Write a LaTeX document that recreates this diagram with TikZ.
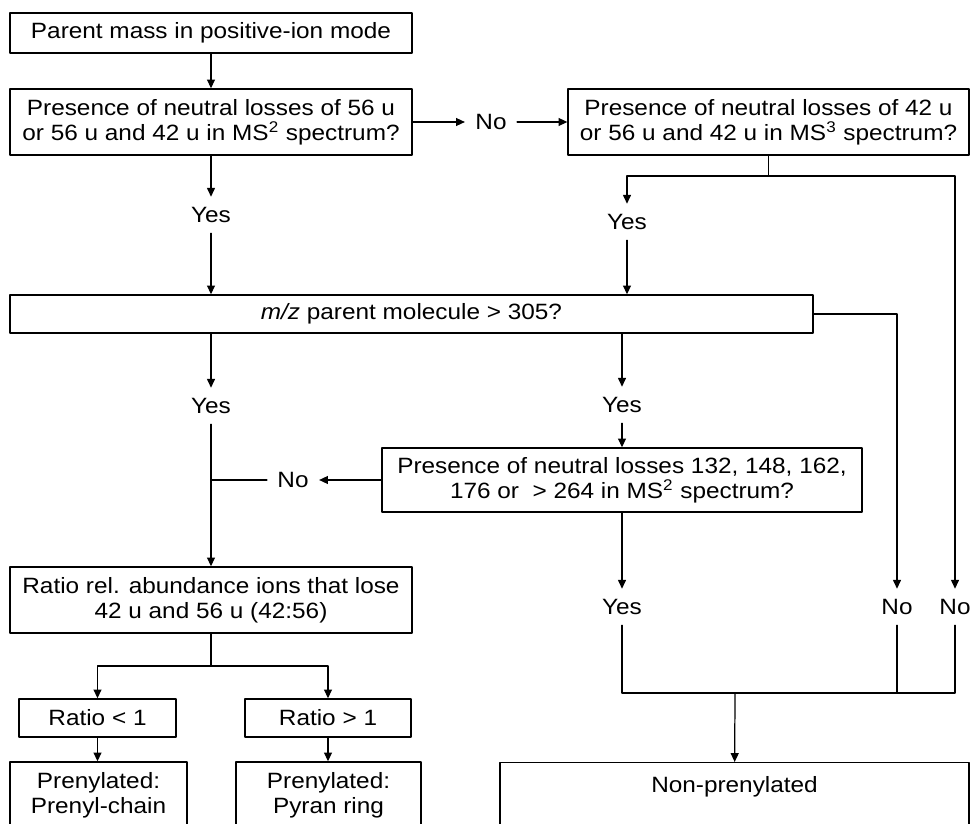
\documentclass[tikz,border=0pt]{standalone}
\usepackage{fontspec}
\setmainfont{Liberation Sans}[FakeStretch=1.1]
\usetikzlibrary{arrows.meta}
\begin{document}
\begin{tikzpicture}[x=0.02cm,y=-0.02cm,line cap=round,line join=round,>={Triangle[length=5pt,width=4.5pt]},
	font=\fontsize{12.6}{14.4}\selectfont,line width=0.7pt,
	box/.style={draw,line width=0.8pt,align=center,inner sep=2pt},
	lbl/.style={inner sep=1pt,outer sep=5pt}]
	
	\clip (0,0) rectangle (970,824);
	% boxes
	\node[box,minimum width=8.04cm,minimum height=0.8cm] (pm) at (211,33) {Parent mass in positive-ion mode};
	\node[box,minimum width=8.04cm,minimum height=1.32cm] (ms2) at (211,122) {Presence of neutral losses of 56 u\\or 56 u and 42 u in MS\textsuperscript{2} spectrum?};
	\node[box,minimum width=8.02cm,minimum height=1.32cm] (ms3) at (768.5,122) {Presence of neutral losses of 42 u\\or 56 u and 42 u in MS\textsuperscript{3} spectrum?};
	\node[box,minimum width=16.06cm,minimum height=0.76cm] (mz) at (411.5,314) {\textit{m/z} parent molecule > 305?};
	\node[box,minimum width=9.6cm,minimum height=1.28cm] (nl) at (622,480) {Presence of neutral losses 132, 148, 162,\\176 or \ > 264 in MS\textsuperscript{2} spectrum?};
	\node[box,minimum width=8.04cm,minimum height=1.32cm] (ratio) at (211,600) {Ratio rel. abundance ions that lose\\42 u and 56 u (42:56)};
	\node[box,minimum width=3.14cm,minimum height=0.76cm] (lt) at (97.5,718) {Ratio < 1};
	\node[box,minimum width=3.32cm,minimum height=0.76cm] (gt) at (328,718) {Ratio > 1};
	\node[box,minimum width=3.54cm,minimum height=1.32cm] (chain) at (98.5,795) {Prenylated:\\Prenyl-chain};
	\node[box,minimum width=3.7cm,minimum height=1.32cm] (pyran) at (328.5,795) {Prenylated:\\Pyran ring};
	\node[box,minimum width=9.38cm,minimum height=1.4cm,anchor=north,label={[anchor=north,yshift=-4.5pt]north:Non-prenylated}] (nonp) at (734.5,762) {};
	
	% yes / no
	\node[lbl] (no1) at (491,122) {No};
	\node[lbl] (yes1) at (211,215) {Yes};
	\node[lbl] (yes2) at (627,222) {Yes};
	\node[lbl] (yes3) at (211,406) {Yes};
	\node[lbl] (yes4) at (622,405) {Yes};
	\node[lbl] (no2) at (293,480) {No};
	\node[lbl] (yes5) at (622,607) {Yes};
	\node[lbl] (no3) at (897,607) {No};
	\node[lbl] (no4) at (955,607) {No};
	\coordinate (split3) at (768.5,176);
	\coordinate (split6) at (211,666);
	\coordinate (join) at (735,693);
	
	% connectors
	\draw[->] (pm) -- (ms2);
	\draw[->] (ms2) -- (no1);
	\draw[->] (no1) -- (ms3);
	\draw[->] (ms2) -- (yes1);
	\draw[->] (yes1) -- (yes1 |- mz.north);
	\draw (ms3) -- (split3);
	\draw[->] (split3) -| (yes2);
	\draw[->] (split3) -| (no4);
	\draw[->] (yes2) -- (yes2 |- mz.north);
	\draw[->] (mz.east) -| (no3);
	\draw[->] (yes3 |- mz.south) -- (yes3);
	\draw[->] (yes3) -- (ratio);
	\draw[->] (yes4 |- mz.south) -- (yes4);
	\draw[->] (yes4) -- (nl);
	\draw[->] (nl) -- (no2);
	\draw (no2) -- (no2 -| yes3);
	\draw[->] (nl) -- (yes5);
	\draw (yes5) |- (no4 |- join) -- (no4);
	\draw (no3) -- (no3 |- join);
	\draw[->] (join) -- (nonp);
	\draw (ratio) -- (split6);
	\draw[->] (split6) -| (lt);
	\draw[->] (split6) -| (gt);
	\draw[->] (lt) -- (lt |- chain.north);
	\draw[->] (gt) -- (gt |- pyran.north);
\end{tikzpicture}
\end{document}
